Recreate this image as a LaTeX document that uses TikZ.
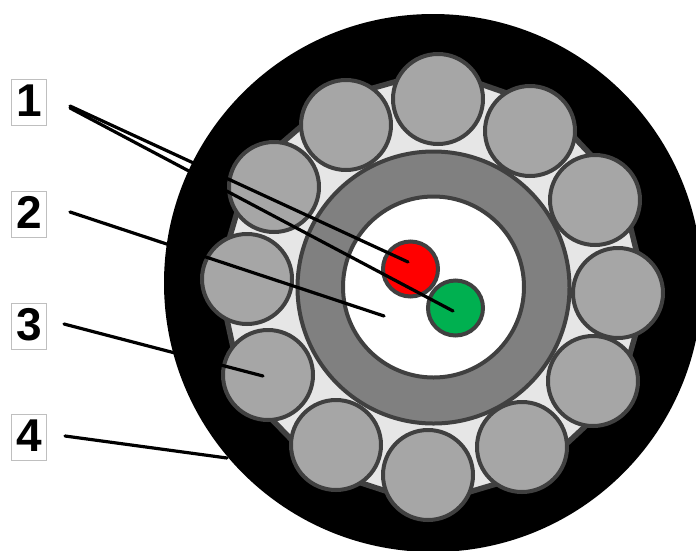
\documentclass[tikz,border=0pt]{standalone}
\usepackage{fontspec}
\usetikzlibrary{calc}
\setmainfont{Liberation Sans}
\definecolor{edge}{HTML}{404040}
\definecolor{strand}{HTML}{A6A6A6}
\definecolor{fillgap}{HTML}{E6E6E6}
\definecolor{ringgray}{HTML}{808080}
\definecolor{grn}{HTML}{00B050}
\newcommand{\tagdigit}[1]{\raisebox{4pt}{#1}}
\tikzset{
  wire/.style={circle,draw=edge,line width=4pt,minimum size=#1,inner sep=0pt,outer sep=0pt},
  strandnode/.style={wire=90pt,fill=strand},
  tag/.style={draw=black!25,line width=1pt,fill=white,minimum width=35pt,minimum height=46pt,inner sep=0pt,font=\fontsize{46}{46}\selectfont\bfseries},
  leader/.style={line width=3.2pt,black,line cap=round}
}
\begin{document}
\begin{tikzpicture}[x=1pt,y=-1pt]
\useasboundingbox (0,0) rectangle (696,550);
\begin{scope}
\clip (0,0) rectangle (696,550);
\node[circle,fill=black,minimum size=538pt,inner sep=0pt] (jacket) at (433,283) {};
\coordinate (mid) at (433,287);
\foreach \n/\x/\y in {a/438/99,c/530/131,d/595/200,e/618/293,f/593/381,g/522/447,h/428/475,i/336/445,j/268/375,k/247/279,l/274/187,b/346/125}{
  \coordinate (p\n) at (\x,\y);
  \coordinate (q\n) at ($(mid)!1.157!(p\n)$);
}
\draw[draw=edge,fill=fillgap,line width=5.5pt,line join=miter] (qa)--(qc)--(qd)--(qe)--(qf)--(qg)--(qh)--(qi)--(qj)--(qk)--(ql)--(qb)--cycle;
\foreach \n in {a,b,c,d,e,f,g,h,i,j,k,l}{
  \node[strandnode] (s\n) at (p\n) {};
}
\node[wire=272pt,fill=ringgray] (ring) at (433.5,287.5) {};
\node[wire=181pt,fill=white] (core) at (433.5,287) {};
\node[wire=55pt,fill=red] (redc) at (410.5,269) {};
\node[wire=55pt,fill=grn] (greenc) at (455.5,308) {};
\end{scope}
\node[tag] (t1) at (29,102.5) {\tagdigit{1}};
\node[tag] (t2) at (29,214) {\tagdigit{2}};
\node[tag] (t3) at (29,326) {\tagdigit{3}};
\node[tag] (t4) at (29,437.5) {\tagdigit{4}};
\coordinate (o1a) at (70,106);
\coordinate (o1b) at (70,108);
\coordinate (o2) at (70,212);
\coordinate (o3) at (64,324);
\coordinate (o4) at (65,436);
\coordinate (e1a) at (408,262);
\coordinate (e1b) at (453,311);
\coordinate (e2) at (384,316);
\coordinate (e3) at (263,376);
\coordinate (e4) at (227,458);
\draw[leader] (o1a) -- (e1a);
\draw[leader] (o1b) -- (e1b);
\draw[leader] (o2) -- (e2);
\draw[leader] (o3) -- (e3);
\draw[leader] (o4) -- (e4);
\end{tikzpicture}
\end{document}
